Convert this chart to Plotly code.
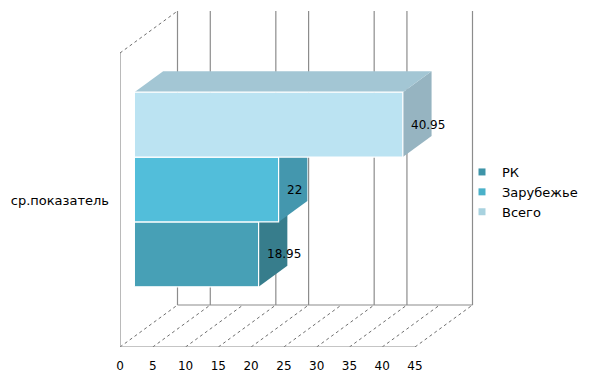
import plotly.graph_objects as go

# ---- data ----
categories = ["ср.показатель"]
series_names = ["РК", "Зарубежье", "Всего"]
series_values = [18.95, 22, 40.95]
tick_values = [0, 5, 10, 15, 20, 25, 30, 35, 40, 45]
tick_labels = ["0", "5", "10", "15", "20", "25", "30", "35", "40", "45"]
wall_grid_values = [0, 5, 15, 20, 30, 35, 45]  # back-wall gridlines that are visible

# ---- styles ----
front_colors = ["#47A0B6", "#52BEDA", "#BBE3F2"]
side_colors = ["#377D8C", "#4497AE", "#96B4C1"]
top_colors = ["#3A8799", "#47A6BE", "#A3C6D4"]
legend_colors = ["#3E94A8", "#4AB1C9", "#A8D2DF"]
GRID = "#8C8C8C"
DIAG = "#6E6E6E"
FONT = "DejaVu Sans"

W, H = 589, 383
ML, MR, MT, MB = 120, 109, 0, 36
PX_PER_X = 295 / 45.0          # pixels per value unit on the front plane
PX_PER_Y = 294.0               # pixels per category-axis unit
plot_w = W - ML - MR
plot_h = H - MT - MB
XMAX = plot_w / PX_PER_X
YMAX = plot_h / PX_PER_Y

# oblique depth offset expressed in axis units
DX = 57.5 / PX_PER_X
DY = 42.0 / PX_PER_Y
D0, D1 = 0.25, 0.75            # bar depth (front / back)
VMAX = tick_values[-1]

fig = go.Figure()


def poly(xs, ys, fill, line_color=None, lw=0):
    fig.add_trace(go.Scatter(
        x=xs + [xs[0]], y=ys + [ys[0]], mode="lines", fill="toself",
        fillcolor=fill, line=dict(color=line_color or fill, width=lw),
        hoverinfo="skip", showlegend=False))


def seg(x0, y0, x1, y1, color, width=1, dash="solid"):
    fig.add_trace(go.Scatter(
        x=[x0, x1], y=[y0, y1], mode="lines",
        line=dict(color=color, width=width, dash=dash),
        hoverinfo="skip", showlegend=False))


# back wall gridlines
for v in wall_grid_values:
    seg(v + DX, DY, v + DX, 1 + DY, GRID, 1.2)
# back floor edge
seg(DX, DY, VMAX + DX, DY, GRID, 1.2)
# floor diagonals
for v in tick_values:
    seg(v, 0, v + DX, DY, DIAG, 1, "dot")
# left wall
seg(0, 0, 0, 1, GRID, 1.2)
seg(0, 1, DX, 1 + DY, DIAG, 1, "dot")
# front floor edge
seg(0, 0, VMAX, 0, GRID, 1.2)

# bars (single category)
n = len(series_values)
bar_h = 0.2207
gap = (1 - n * bar_h) / 2
for i, (name, val) in enumerate(zip(series_names, series_values)):
    yb = gap + i * bar_h
    yt = yb + bar_h
    # side face
    poly([val + D0 * DX, val + D1 * DX, val + D1 * DX, val + D0 * DX],
         [yb + D0 * DY, yb + D1 * DY, yt + D1 * DY, yt + D0 * DY],
         side_colors[i])
    # top face
    poly([D0 * DX, val + D0 * DX, val + D1 * DX, D1 * DX],
         [yt + D0 * DY, yt + D0 * DY, yt + D1 * DY, yt + D1 * DY],
         top_colors[i])
    # front face
    poly([D0 * DX, val + D0 * DX, val + D0 * DX, D0 * DX],
         [yb + D0 * DY, yb + D0 * DY, yt + D0 * DY, yt + D0 * DY],
         front_colors[i], "white", 1.2)
    fig.add_annotation(
        x=val + D0 * DX, y=(yb + yt) / 2 + D0 * DY, text=f"{val:g}",
        xanchor="left", yanchor="middle", xshift=6, showarrow=False,
        font=dict(family=FONT, size=12, color="#000000"))

# legend entries
for name, col in zip(series_names, legend_colors):
    fig.add_trace(go.Scatter(
        x=[None], y=[None], mode="markers", name=name,
        marker=dict(symbol="square", size=7, color=col)))

fig.update_layout(
    width=W, height=H,
    margin=dict(l=ML, r=MR, t=MT, b=MB, pad=0),
    paper_bgcolor="white", plot_bgcolor="white",
    font=dict(family=FONT, size=12, color="#000000"),
    showlegend=True,
    legend=dict(x=(462 - ML) / plot_w, xanchor="left",
                y=(H - MB - 192) / plot_h, yanchor="middle",
                bgcolor="rgba(0,0,0,0)", font=dict(family=FONT, size=13),
                traceorder="normal", itemclick=False),
    xaxis=dict(range=[0, XMAX], showgrid=False, zeroline=False,
               showline=False, ticks="", tickvals=tick_values,
               ticktext=tick_labels, ticklabelstandoff=10,
               tickfont=dict(family=FONT, size=12)),
    yaxis=dict(range=[0, YMAX], showgrid=False, zeroline=False,
               showline=False, ticks="", tickvals=[0.5],
               ticktext=categories, ticklabelstandoff=10,
               tickfont=dict(family=FONT, size=13)),
)

fig.write_html(
    "out.html",
    config={"displayModeBar": False},
    post_script="document.body.style.margin='0';document.body.style.overflow='hidden';",
)
